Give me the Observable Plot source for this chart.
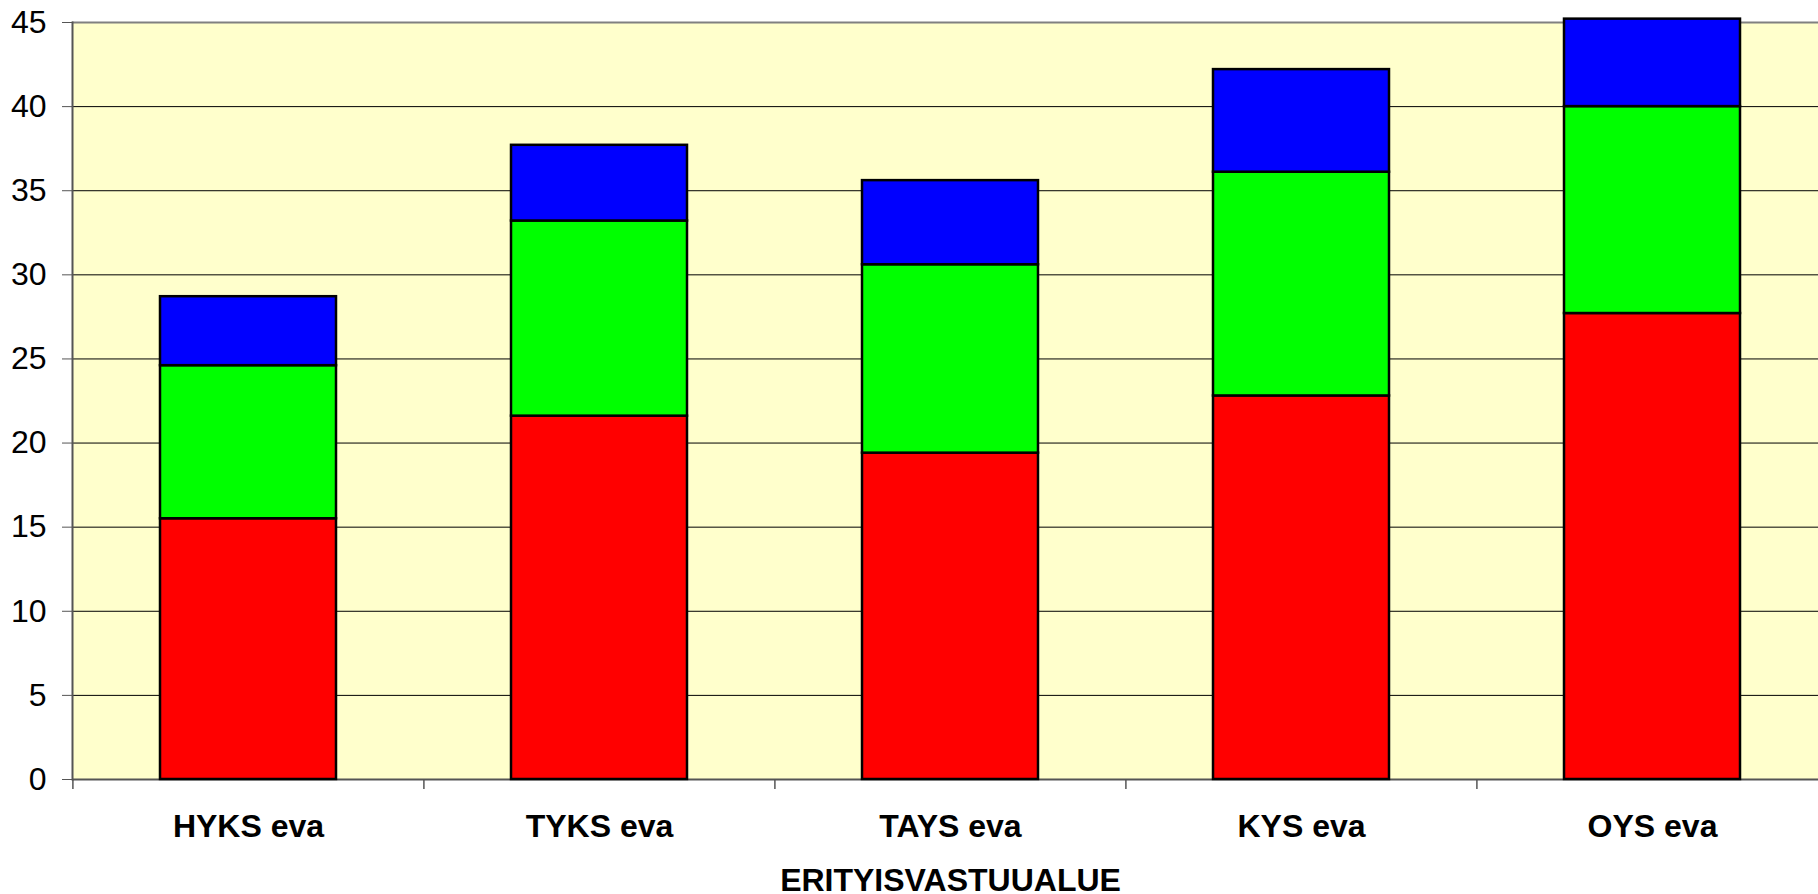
<!DOCTYPE html>
<html>
<head>
<meta charset="utf-8">
<script src="https://cdn.jsdelivr.net/npm/d3@7"></script>
<script src="https://cdn.jsdelivr.net/npm/@observablehq/plot@0.6"></script>
<style>
  html, body { margin: 0; padding: 0; background: #fff; overflow: hidden; }
  #chart svg { display: block; }
</style>
</head>
<body>
<div id="chart"></div>
<script>
// Erityisvastuualueet (x-akseli)
const categories = ["HYKS eva", "TYKS eva", "TAYS eva", "KYS eva", "OYS eva"];

// Pinottujen pylväiden sarjat alhaalta ylös
const seriesNames = ["sarja 1", "sarja 2", "sarja 3"];
const series1 = [15.5, 21.6, 19.4, 22.8, 27.7];
const series2 = [9.1, 11.6, 11.2, 13.3, 12.3];
const series3 = [4.1, 4.5, 5.0, 6.1, 5.2];

// y-akselin asteikko
const yTicks = [0, 5, 10, 15, 20, 25, 30, 35, 40, 45];

const seriesValues = [series1, series2, series3];
const table = categories.flatMap((category, i) =>
  seriesNames.map((series, j) => ({category, series, value: seriesValues[j][i]}))
);

const width = 1818;
const height = 894;
const marginLeft = 72;
const marginRight = -10;
const marginTop = 22;
const marginBottom = 115;
const step = (width - marginLeft - marginRight) / categories.length;
const plotHeight = height - marginTop - marginBottom;
const font = "'Liberation Sans', Arial, Helvetica, sans-serif";

const chart = Plot.plot({
  width,
  height,
  marginLeft,
  marginRight,
  marginTop,
  marginBottom,
  style: {fontFamily: font, color: "#000", background: "#fff", overflow: "visible"},
  x: {domain: categories, paddingInner: 0.5, paddingOuter: 0.25, align: 0.5},
  y: {domain: [0, 45]},
  color: {domain: seriesNames, range: ["#ff0000", "#00ff00", "#0000ff"]},
  marks: [
    Plot.frame({fill: "#ffffcc", stroke: null}),
    Plot.gridY(yTicks.filter((d) => d > 0 && d < 45), {stroke: "#000", strokeOpacity: 1, strokeWidth: 1}),
    Plot.ruleY([45], {stroke: "#808080", strokeWidth: 2}),
    Plot.ruleY([0], {stroke: "#555", strokeWidth: 2}),
    Plot.frame({anchor: "left", stroke: "#555", strokeWidth: 2}),
    // category boundary ticks below the baseline
    Plot.ruleX(categories, {x: (d) => d, dx: -step / 2, insetTop: plotHeight, insetBottom: -10, stroke: "#555", strokeWidth: 1.5}),
    Plot.barY(table, {x: "category", y: "value", fill: "series", stroke: "#000", strokeWidth: 2.5}),
    Plot.axisY({ticks: yTicks, tickSize: 10, tickPadding: 16, fontSize: 32, stroke: "#555", label: null, fill: "#000"}),
    Plot.axisX({tickSize: 0, tickPadding: 35, fontSize: 32, fontWeight: "bold", fill: "#000",
      label: "ERITYISVASTUUALUE", labelAnchor: "center", labelOffset: 111, labelArrow: "none"})
  ]
});

document.getElementById("chart").appendChild(chart);
</script>
</body>
</html>
